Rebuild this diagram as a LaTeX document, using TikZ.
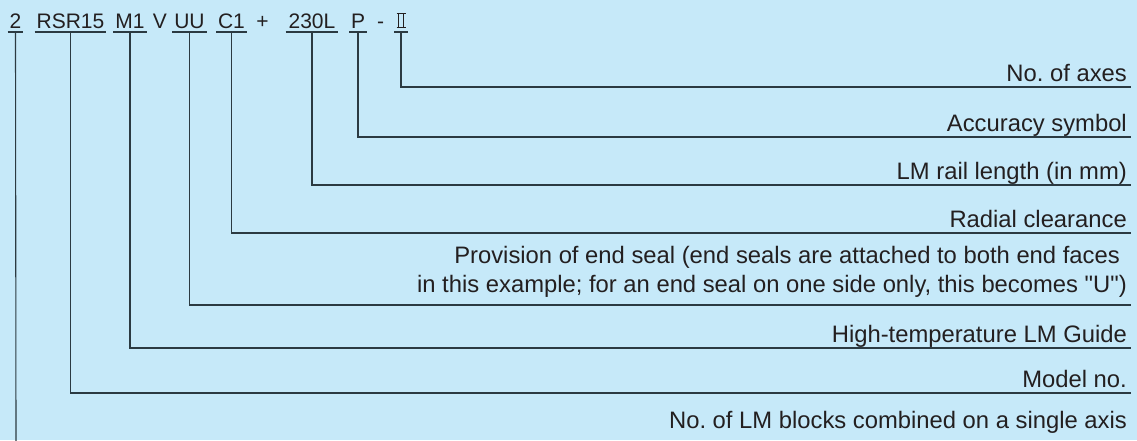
\documentclass[tikz,border=0pt]{standalone}
\usepackage{fontspec}
\setmainfont{Liberation Sans}
\frenchspacing
\usetikzlibrary{positioning}
\definecolor{thk-sky}{HTML}{C6E9F9}
\definecolor{thk-ink}{HTML}{231F20}
\definecolor{thk-line}{HTML}{2B3A42}
\colorlet{leader}{thk-line}
% Roman numeral two with joined bars
\newcommand{\romtwo}{\hbox to 9pt{\rlap{\vrule width 9pt height 15pt depth -14pt}\rlap{\vrule width 9pt height 1pt}\kern1.5pt\vrule width 1.1pt height 15pt\hfil\vrule width 1.1pt height 15pt\kern1.5pt}}

\begin{document}
\begin{tikzpicture}[
  x=1pt, y=-1pt,
  code/.style={font=\fontsize{21}{25}\selectfont, text=thk-ink, anchor=base, inner xsep=2pt, inner ysep=4pt, text depth=0pt, outer sep=0pt},
  sep/.style={code, inner xsep=0pt},
  note/.style={font=\fontsize{23.8}{29}\selectfont, text=thk-ink, anchor=base east, inner sep=0pt, align=right},
  lead/.style={draw=leader, line width=1.1pt}
]

% Background
\fill[thk-sky] (0,0) rectangle (1137,440);
\useasboundingbox (0,0) rectangle (1137,440);

% Code
\node[code] (cBlocks) at (15.5, 28) {2};
\node[code] (cModel) at (70.5, 28) {RSR15};
\node[code] (cTemp) at (130, 28) {M1};
\node[sep] (cV) at (160, 28) {V};
\node[code] (cSeal) at (189.5, 28) {UU};
\node[code] (cClear) at (231.5, 28) {C1};
\node[sep] (cPlus) at (262.5, 28) {+};
\node[code, inner xsep=3pt] (cLength) at (312, 28) {230L};
\node[code] (cAcc) at (358, 28) {P};
\node[sep] (cDash) at (380.5, 28) {-};
\node[code, inner xsep=2.5pt] (cAxes) at (401, 28) {\romtwo};
\draw[lead] (cBlocks.south west) -- (cBlocks.south east);
\draw[lead] (cModel.south west) -- (cModel.south east);
\draw[lead] (cTemp.south west) -- (cTemp.south east);
\draw[lead] (cSeal.south west) -- (cSeal.south east);
\draw[lead] (cClear.south west) -- (cClear.south east);
\draw[lead] (cLength.south west) -- (cLength.south east);
\draw[lead] (cAcc.south west) -- (cAcc.south east);
\draw[lead] (cAxes.south west) -- (cAxes.south east);

% Labels
\node[note] (nAxes) at (1127, 81) {No. of axes};
\node[note] (nAcc) at (1127, 131) {Accuracy symbol};
\node[note] (nLength) at (1127, 179) {LM rail length (in mm)};
\node[note] (nClear) at (1127, 227) {Radial clearance};
\node[note] (nSeal) at (1127, 292) {Provision of end seal (end seals are attached to both end faces\hspace*{7pt}\\
in this example; for an end seal on one side only, this becomes \textquotedbl U\textquotedbl)};
\node[note] (nTemp) at (1127, 342) {High-temperature LM Guide};
\node[note] (nModel) at (1127, 387) {Model no.};
\node[note] (nBlocks) at (1127, 428) {No. of LM blocks combined on a single axis};

% Leader ends
\coordinate (eAxes) at (1131, 87);
\coordinate (eAcc) at (1131, 137);
\coordinate (eLength) at (1131, 185);
\coordinate (eClear) at (1131, 233);
\coordinate (eSeal) at (1131, 305);
\coordinate (eTemp) at (1131, 348);
\coordinate (eModel) at (1131, 393);
\coordinate (eBlocks) at (16, 441);

% Edges
\draw[lead] (cAxes.south) |- (eAxes);
\draw[lead] (cAcc.south) |- (eAcc);
\draw[lead] (cLength.south) |- (eLength);
\draw[lead] (cClear.south) |- (eClear);
\draw[lead] (cSeal.south) |- (eSeal);
\draw[lead] (cTemp.south) |- (eTemp);
\draw[lead] (cModel.south) |- (eModel);
\draw[lead] (cBlocks.south) -- (eBlocks);
\end{tikzpicture}
\end{document}
